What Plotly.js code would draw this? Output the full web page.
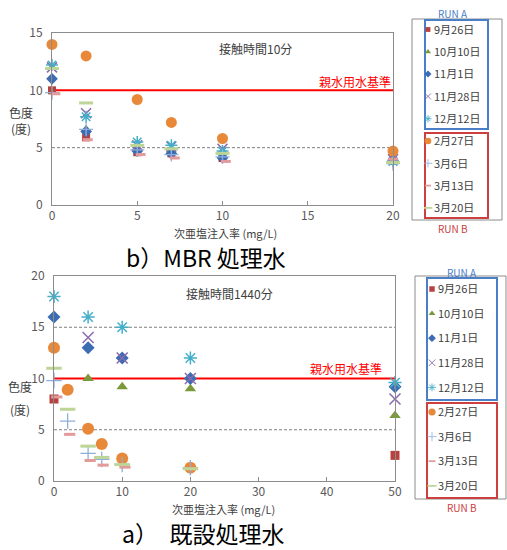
<!DOCTYPE html>
<html><head><meta charset="utf-8">
<script src="https://cdn.plot.ly/plotly-3.0.1.min.js"></script>
<style>html,body{margin:0;padding:0;background:#fff}#chart{width:507px;height:550px}</style>
</head><body><div id="chart"></div>
<script>
// ---- data ----
const seriesNames = ["9月26日","10月10日","11月1日","11月28日","12月12日","2月27日","3月6日","3月13日","3月20日"];
const standardValue = 10; // 親水用水基準
const gridTop = [5];       // dotted reference lines, top chart
const gridBottom = [5, 15]; // dotted reference lines, bottom chart

// b) MBR処理水, 接触時間10分
const topX = [0, 2, 5, 7, 10, 20];
const topX_0313 = [0.2, 2.1, 5.2, 7.2, 10.2, 20];
const top_0926 = [10.0, 5.9, 4.6, 4.5, 4.1, 3.9];
const top_1010 = [12.0, 6.6, 5.0, 4.8, 4.3, 3.8];
const top_1101 = [11.0, 6.4, 4.7, 4.5, 4.1, 3.9];
const top_1128 = [12.0, 8.0, 5.2, 5.1, 4.9, 4.0];
const top_1212 = [12.2, 7.7, 5.5, 5.2, 4.7, 3.8];
const top_0227 = [14.0, 13.0, 9.2, 7.2, 5.8, 4.7];
const top_0306 = [9.8, 6.6, 4.8, 4.4, 4.2, 3.6];
const top_0313 = [9.7, 5.7, 4.4, 4.1, 3.8, 4.0];
const top_0320 = [11.9, 8.9, 5.2, 4.9, 4.5, 3.7];

// a) 既設処理水, 接触時間1440分
const botX_0926 = [0, 50];
const bot_0926 = [8.0, 2.5];
const botX_A = [0, 5, 10, 20, 50];
const bot_1010 = [12.9, 10.0, 9.2, 9.0, 6.4];
const bot_1101 = [16, 13, 12, 10, 9.2];
const botX_1128 = [5, 10, 20, 50];
const bot_1128 = [14, 12, 10, 8];
const bot_1212 = [18, 16, 15, 12, 9.6];
const botX_B = [0, 2, 5, 7, 10, 20];
const botX_0313 = [0.4, 2.3, 5.3, 7.2, 10.4, 20.3];
const bot_0227 = [13, 8.9, 5.1, 3.6, 2.2, 1.3];
const bot_0306 = [9.8, 5.85, 2.7, 2.1, 1.6, 1.3];
const bot_0313 = [8.2, 4.55, 2.0, 1.55, 1.35, 1.2];
const bot_0320 = [11.0, 7.0, 3.4, 2.3, 1.6, 1.2];

// ---- styles ----
const styles = [
  {symbol:'square', color:'#B8413E', size:8},
  {symbol:'triangle-up', color:'#7A9A3A', size:9},
  {symbol:'diamond', color:'#3D6CB3', size:9},
  {symbol:'x-thin-open', color:'#8A6AAE', size:10, lw:1.5},
  {symbol:'asterisk-open', color:'#45AFC8', size:10, lw:1.5},
  {symbol:'circle', color:'#E8893A', size:11},
  {symbol:'cross-thin-open', color:'#8EAEDC', size:10, lw:1.3},
  {symbol:'line-ew-open', color:'#E39A9A', size:7, lw:3},
  {symbol:'line-ew-open', color:'#BDD596', size:10, lw:3}
];
function mk(i, x, y, xa, ya, leg, sizeAdd){
  const s = styles[i];
  const m = {symbol:s.symbol, size:s.size + (sizeAdd||0), color:s.color};
  if (s.lw) m.line = {color:s.color, width:s.lw};
  return {type:'scatter', mode:'markers', x:x, y:y, xaxis:xa, yaxis:ya, name:seriesNames[i],
    marker:m, cliponaxis:false, legend:leg, legendgroup:leg+'_'+i, showlegend:true};
}
const traces = [
  mk(0, topX, top_0926, 'x', 'y', 'legend'),
  mk(1, topX, top_1010, 'x', 'y', 'legend'),
  mk(2, topX, top_1101, 'x', 'y', 'legend'),
  mk(3, topX, top_1128, 'x', 'y', 'legend'),
  mk(4, topX, top_1212, 'x', 'y', 'legend'),
  mk(5, topX, top_0227, 'x', 'y', 'legend'),
  mk(6, topX, top_0306, 'x', 'y', 'legend'),
  mk(7, topX_0313, top_0313, 'x', 'y', 'legend'),
  mk(8, topX, top_0320, 'x', 'y', 'legend'),
  mk(0, botX_0926, bot_0926, 'x2', 'y2', 'legend2', 1),
  mk(1, botX_A, bot_1010, 'x2', 'y2', 'legend2', 1),
  mk(2, botX_A, bot_1101, 'x2', 'y2', 'legend2', 1),
  mk(3, botX_1128, bot_1128, 'x2', 'y2', 'legend2', 1),
  mk(4, botX_A, bot_1212, 'x2', 'y2', 'legend2', 1),
  mk(5, botX_B, bot_0227, 'x2', 'y2', 'legend2', 1),
  mk(6, botX_B, bot_0306, 'x2', 'y2', 'legend2', 1),
  mk(7, botX_0313, bot_0313, 'x2', 'y2', 'legend2', 1),
  mk(8, botX_B, bot_0320, 'x2', 'y2', 'legend2', 1)
];

// ---- layout helpers (pixel -> paper) ----
const W = 507, H = 550;
const px = v => v / W;
const py = v => 1 - v / H;
const FONT = '"Noto Sans CJK JP", "Noto Sans", sans-serif';
const tickFont = {family: FONT, size: 12, color: '#595959'};
const axCommon = {showline:true, mirror:true, linecolor:'#8C8C8C', linewidth:1, zeroline:false,
  tickfont: tickFont, fixedrange:true, showgrid:false};

function ann(text, x, y, opts){
  return Object.assign({text:text, x:px(x), y:py(y), xref:'paper', yref:'paper', showarrow:false,
    xanchor:'center', yanchor:'middle', font:{family:FONT, size:12, color:'#404040'}}, opts||{});
}
function box(x0, y0, x1, y1, color, w){
  return {type:'rect', xref:'paper', yref:'paper', x0:px(x0), x1:px(x1), y0:py(y1), y1:py(y0),
    line:{color:color, width:w}, fillcolor:'rgba(0,0,0,0)'};
}
function hline(xa, ya, v, color, width, dash){
  return {type:'line', xref:xa + ' domain', yref:ya, x0:0, x1:1, y0:v, y1:v,
    line:{color:color, width:width, dash:dash || 'solid'}, layer:'below'};
}
const legFont = {family:FONT, size:11, color:'#404040'};

const shapes = []
  .concat(gridTop.map(v => hline('x', 'y', v, '#7F7F7F', 1, '3px,2px')))
  .concat(gridBottom.map(v => hline('x2', 'y2', v, '#7F7F7F', 1, '3px,2px')))
  .concat([
    hline('x', 'y', standardValue, '#FF0000', 2),
    hline('x2', 'y2', standardValue, '#FF0000', 2),
    box(412, 19, 502, 220, '#8C8C8C', 1),
    box(425, 20, 488, 129, '#4A7EC7', 2),
    box(425, 133, 488, 218, '#CC4040', 2),
    box(415, 276, 506, 499, '#8C8C8C', 1),
    box(427, 278, 497, 400, '#4A7EC7', 2),
    box(427, 403, 497, 498, '#CC4040', 2)
  ]);

const layout = {
  width: W, height: H, margin:{l:0, r:0, t:0, b:0},
  paper_bgcolor:'#fff', plot_bgcolor:'#fff',
  font:{family:FONT},
  xaxis: Object.assign({}, axCommon, {domain:[px(52), px(393)], range:[0,20], dtick:5,
    ticks:'inside', ticklen:4, tickcolor:'#8C8C8C', anchor:'y'}),
  yaxis: Object.assign({}, axCommon, {domain:[py(205), py(33)], range:[0,15], dtick:5,
    ticks:'', ticklabelstandoff:6, anchor:'x'}),
  xaxis2: Object.assign({}, axCommon, {domain:[px(54), px(395)], range:[0,50], dtick:10,
    ticks:'inside', ticklen:4, tickcolor:'#8C8C8C', anchor:'y2'}),
  yaxis2: Object.assign({}, axCommon, {domain:[py(481), py(276)], range:[0,20], dtick:5,
    ticks:'', ticklabelstandoff:6, anchor:'x2'}),
  legend: {x:px(394), y:py(15), xanchor:'left', yanchor:'top', bgcolor:'rgba(0,0,0,0)', borderwidth:0,
    font:legFont, traceorder:'grouped', tracegroupgap:3.3, itemclick:false},
  legend2: {x:px(398), y:py(274.5), xanchor:'left', yanchor:'top', bgcolor:'rgba(0,0,0,0)', borderwidth:0,
    font:legFont, traceorder:'grouped', tracegroupgap:5.6, itemclick:false},
  shapes: shapes,
  annotations: [
    ann('接触時間10分', 255, 48),
    ann('接触時間1440分', 229, 293),
    ann('親水用水基準', 393, 82, {xanchor:'right', font:{family:FONT, size:12, color:'#FF0000'}}),
    ann('親水用水基準', 384, 368, {xanchor:'right', font:{family:FONT, size:12, color:'#FF0000'}}),
    ann('色度<br>(度)', 21, 121, {font:{family:FONT, size:12, color:'#404040'}}),
    ann('色度', 20, 386), ann('(度)', 20, 409),
    ann('次亜塩注入率 (mg/L)', 225, 233, {font:{family:FONT, size:11, color:'#404040'}}),
    ann('次亜塩注入率 (mg/L)', 223, 509, {font:{family:FONT, size:11, color:'#404040'}}),
    ann('b）MBR 処理水', 206, 257, {font:{family:FONT, size:23, color:'#000'}}),
    ann('a）\u2002既設処理水', 203, 533, {font:{family:FONT, size:23, color:'#000'}}),
    ann('RUN A', 453, 13, {font:{family:FONT, size:10, color:'#4A7EC7'}}),
    ann('RUN B', 453, 228, {font:{family:FONT, size:10, color:'#CC4040'}}),
    ann('RUN A', 462, 272, {font:{family:FONT, size:10, color:'#4A7EC7'}}),
    ann('RUN B', 462, 507, {font:{family:FONT, size:10, color:'#CC4040'}})
  ]
};
Plotly.newPlot('chart', traces, layout, {staticPlot:true, displayModeBar:false}).then(function(gd){
  // bring legend symbols close to their labels and shrink them, as in the reference
  gd.querySelectorAll('.legendpoints').forEach(function(g){
    const t = g.getAttribute('transform') || '';
    g.setAttribute('transform', (t + ' translate(22,0) scale(0.6)').trim());
  });
});
</script>
</body></html>
